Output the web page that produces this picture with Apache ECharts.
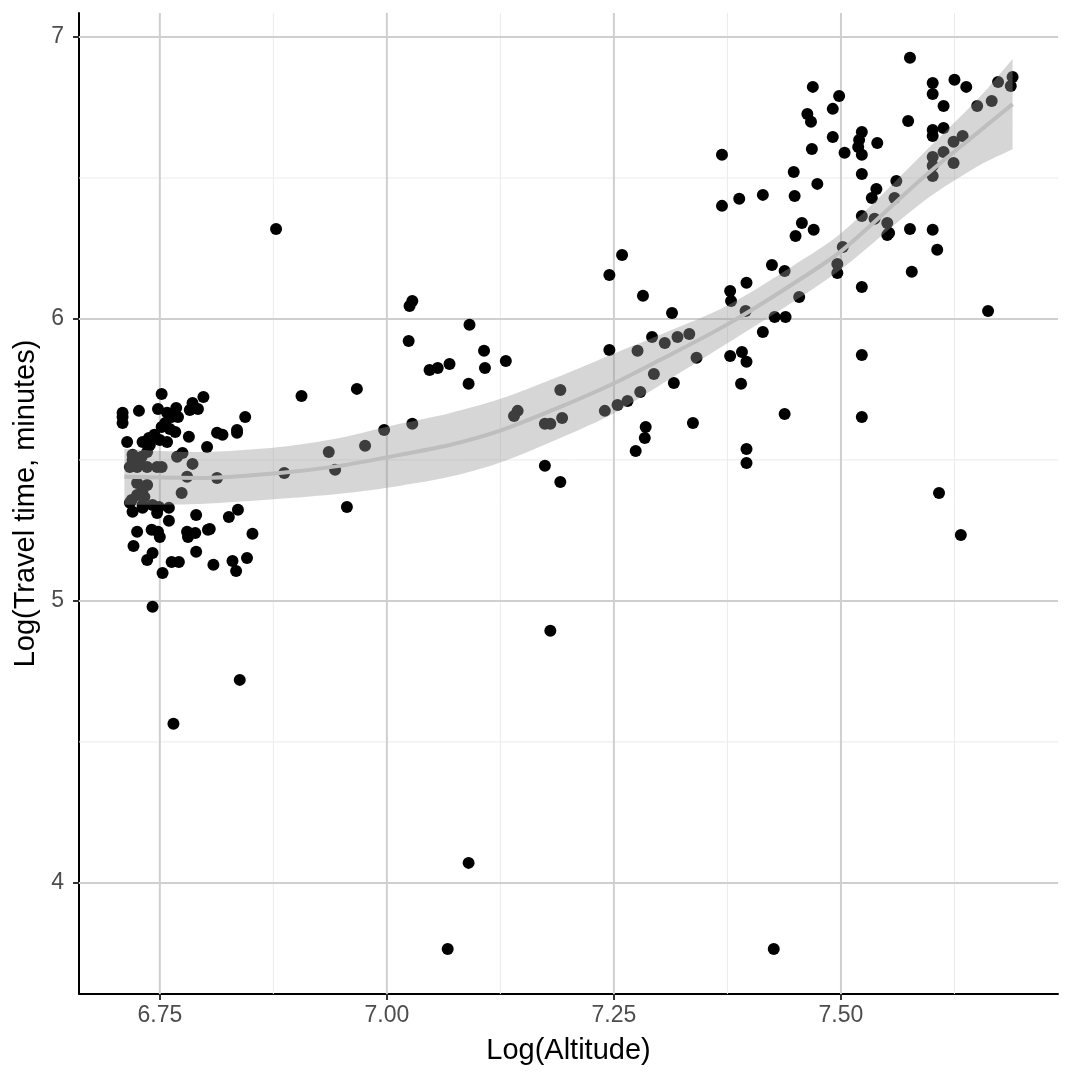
<!DOCTYPE html>
<html>
<head>
<meta charset="utf-8">
<title>Travel time vs altitude</title>
<script src="https://cdn.jsdelivr.net/npm/echarts@6/dist/echarts.min.js"></script>
<style>
  html, body { margin: 0; padding: 0; background: #fff; }
  #main { width: 1073px; height: 1084px; }
</style>
</head>
<body>
<div id="main"></div>
<script>
// observed points: log altitude / log travel time
const altitude = [
  6.752, 6.709, 6.709, 6.709, 6.727, 6.748, 6.758, 6.768, 6.786, 6.798,
  6.792, 6.783, 6.770, 6.763, 6.756, 6.752, 6.761, 6.767, 6.744, 6.738,
  6.731, 6.739, 6.750, 6.758, 6.714, 6.782, 6.802, 6.813, 6.819, 6.835,
  6.835, 6.844, 6.720, 6.730, 6.736, 6.769, 6.775, 6.786, 6.717, 6.725,
  6.736, 6.747, 6.752, 6.728, 6.720, 6.780, 6.813, 6.725, 6.736, 6.731,
  6.725, 6.733, 6.774, 6.719, 6.717, 6.731, 6.720, 6.731, 6.742, 6.747,
  6.749, 6.760, 6.790, 6.826, 6.836, 6.760, 6.725, 6.741, 6.748, 6.750,
  6.780, 6.781, 6.789, 6.803, 6.805, 6.852, 6.721, 6.742, 6.736, 6.790,
  6.809, 6.763, 6.771, 6.830, 6.846, 6.834, 6.753, 6.742, 6.838, 6.765,
  6.878, 6.887, 6.906, 6.936, 6.943, 6.956, 6.967, 6.976, 6.997, 7.024,
  7.025, 7.028, 7.028, 7.047, 7.056, 7.069, 7.091, 7.107, 7.108, 7.090,
  7.131, 7.140, 7.144, 7.174, 7.180, 7.174, 7.191, 7.193, 7.191, 7.180,
  7.090, 7.067, 7.426,
  7.259, 7.245, 7.282, 7.314, 7.292, 7.306, 7.320, 7.333, 7.276, 7.245,
  7.341, 7.294, 7.316, 7.279, 7.240, 7.254, 7.265, 7.285, 7.284, 7.274,
  7.337, 7.378, 7.379, 7.396, 7.395, 7.424, 7.438, 7.454, 7.427, 7.439,
  7.414, 7.378, 7.391, 7.396, 7.390, 7.438, 7.396, 7.396, 7.523, 7.523,
  7.576, 7.469, 7.498, 7.491, 7.463, 7.467, 7.491, 7.468, 7.504, 7.369,
  7.523, 7.520, 7.519, 7.523, 7.540, 7.574, 7.601, 7.601, 7.625, 7.638,
  7.613, 7.601, 7.601, 7.613, 7.650, 7.666, 7.673, 7.689, 7.687, 7.448,
  7.474, 7.523, 7.414, 7.388, 7.369, 7.449, 7.534, 7.539, 7.561, 7.559,
  7.601, 7.613, 7.624, 7.634, 7.601, 7.601, 7.624, 7.457, 7.450, 7.470,
  7.523, 7.537, 7.551, 7.553, 7.551, 7.576, 7.601, 7.606, 7.578, 7.502,
  7.496, 7.496, 7.523, 7.662, 7.632, 7.608
];
const travelTime = [
  5.734, 5.667, 5.631, 5.652, 5.674, 5.681, 5.667, 5.684, 5.702, 5.723,
  5.681, 5.677, 5.652, 5.652, 5.631, 5.617, 5.610, 5.599, 5.589, 5.578,
  5.564, 5.553, 5.571, 5.564, 5.564, 5.582, 5.546, 5.596, 5.589, 5.606,
  5.596, 5.652, 5.518, 5.511, 5.528, 5.511, 5.525, 5.486, 5.475, 5.475,
  5.475, 5.475, 5.475, 5.500, 5.500, 5.440, 5.436, 5.418, 5.411, 5.394,
  5.376, 5.369, 5.383, 5.358, 5.348, 5.340, 5.316, 5.330, 5.340, 5.312,
  5.333, 5.330, 5.305, 5.298, 5.323, 5.284, 5.245, 5.252, 5.245, 5.227,
  5.245, 5.227, 5.241, 5.252, 5.255, 5.238, 5.195, 5.170, 5.145, 5.174,
  5.128, 5.138, 5.138, 5.142, 5.152, 5.106, 5.099, 4.979, 4.720, 4.564,
  6.319, 5.454, 5.727, 5.528, 5.465, 5.333, 5.752, 5.550, 5.606, 5.922,
  6.046, 6.064, 5.628, 5.819, 5.826, 5.840, 5.979, 5.887, 5.826, 5.770,
  5.851, 5.656, 5.674, 5.628, 5.628, 5.479, 5.748, 5.649, 5.422, 4.894,
  4.071, 3.766, 3.766,
  6.227, 6.156, 6.082, 6.021, 5.936, 5.915, 5.936, 5.947, 5.887, 5.890,
  5.862, 5.805, 5.773, 5.741, 5.674, 5.695, 5.709, 5.617, 5.578, 5.532,
  5.631, 6.099, 6.064, 6.128, 6.028, 6.191, 6.170, 6.078, 6.007, 6.007,
  5.954, 5.869, 5.883, 5.848, 5.770, 5.663, 5.539, 5.489, 5.872, 5.652,
  6.926, 6.823, 6.791, 6.745, 6.727, 6.699, 6.645, 6.603, 6.589, 6.582,
  6.663, 6.635, 6.610, 6.582, 6.624, 6.702, 6.837, 6.798, 6.848, 6.823,
  6.755, 6.670, 6.649, 6.677, 6.755, 6.773, 6.840, 6.858, 6.826, 6.521,
  6.479, 6.514, 6.440, 6.426, 6.401, 6.436, 6.429, 6.461, 6.489, 6.429,
  6.574, 6.592, 6.628, 6.649, 6.543, 6.507, 6.553, 6.340, 6.294, 6.316,
  6.365, 6.355, 6.340, 6.305, 6.298, 6.319, 6.316, 6.245, 6.167, 6.255,
  6.195, 6.163, 6.113, 6.028, 5.234, 5.383
];

// fitted smooth curve and its confidence band
const smoothX   = [6.711, 6.794, 6.882, 6.948, 7.014, 7.069, 7.124, 7.191, 7.249, 7.301, 7.374, 7.447, 7.502, 7.590, 7.653, 7.689];
const smoothY   = [5.440, 5.436, 5.454, 5.479, 5.518, 5.553, 5.603, 5.688, 5.770, 5.855, 5.979, 6.124, 6.245, 6.500, 6.667, 6.762];
const bandLow   = [5.341, 5.344, 5.362, 5.380, 5.408, 5.440, 5.490, 5.578, 5.664, 5.766, 5.912, 6.060, 6.181, 6.415, 6.546, 6.602];
const bandHigh  = [5.539, 5.528, 5.546, 5.578, 5.628, 5.666, 5.716, 5.798, 5.876, 5.944, 6.046, 6.188, 6.309, 6.585, 6.788, 6.922];

// axis ticks and grid breaks
const xTicks = [6.75, 7.00, 7.25, 7.50];
const xMinor = [6.875, 7.125, 7.375, 7.625];
const yTicks = [4, 5, 6, 7];
const yMinor = [4.5, 5.5, 6.5];

const X_MIN = 6.661, X_MAX = 7.739;
const Y_MIN = 3.606, Y_MAX = 7.085;
const FONT = '"Liberation Sans", Arial, sans-serif';

const chart = echarts.init(document.getElementById('main'));

function gridSeries(values, dir, color, width) {
  return {
    type: 'custom',
    silent: true,
    z: 1,
    data: values.map(v => dir === 'v' ? [v, Y_MIN] : [X_MIN, v]),
    renderItem: function (params, api) {
      const cs = params.coordSys;
      if (dir === 'v') {
        const px = api.coord([api.value(0), Y_MIN])[0];
        return { type: 'line', shape: { x1: px, y1: cs.y, x2: px, y2: cs.y + cs.height },
                 style: { stroke: color, lineWidth: width } };
      }
      const py = api.coord([X_MIN, api.value(1)])[1];
      return { type: 'line', shape: { x1: cs.x, y1: py, x2: cs.x + cs.width, y2: py },
               style: { stroke: color, lineWidth: width } };
    }
  };
}

const points = altitude.map((a, i) => [a, travelTime[i]]);
const last = smoothX.length - 1;

chart.setOption({
  animation: false,
  textStyle: { fontFamily: FONT },
  grid: { left: 79, right: 15, top: 13, bottom: 90 },
  xAxis: {
    type: 'value',
    min: X_MIN,
    max: X_MAX,
    name: 'Log(Altitude)',
    nameLocation: 'middle',
    nameGap: 42,
    nameTextStyle: { fontSize: 29, color: '#000', fontFamily: FONT },
    axisLine: { lineStyle: { color: '#000', width: 2 } },
    axisTick: { show: true, length: 6, customValues: xTicks, lineStyle: { color: '#333', width: 2 } },
    axisLabel: {
      customValues: xTicks,
      formatter: v => v.toFixed(2),
      color: '#4d4d4d', fontSize: 23, margin: 10, fontFamily: FONT
    },
    splitLine: { show: false }
  },
  yAxis: {
    type: 'value',
    min: Y_MIN,
    max: Y_MAX,
    name: 'Log(Travel time, minutes)',
    nameLocation: 'middle',
    nameGap: 32,
    nameTextStyle: { fontSize: 29, color: '#000', fontFamily: FONT },
    axisLine: { lineStyle: { color: '#000', width: 2 } },
    axisTick: { show: true, length: 6, customValues: yTicks, lineStyle: { color: '#333', width: 2 } },
    axisLabel: {
      customValues: yTicks,
      formatter: v => String(Math.round(v)),
      color: '#4d4d4d', fontSize: 23, margin: 15, fontFamily: FONT
    },
    splitLine: { show: false }
  },
  series: [
    gridSeries(xMinor, 'v', '#ebebeb', 1),
    gridSeries(yMinor, 'h', '#ebebeb', 1),
    gridSeries(xTicks, 'v', '#cfcfcf', 2),
    gridSeries(yTicks, 'h', '#cfcfcf', 2),
    {
      type: 'scatter',
      z: 2,
      data: points,
      symbolSize: 12,
      itemStyle: { color: '#000', opacity: 1 },
      silent: true
    },
    {
      // confidence band; end corners doubled so the smoothing keeps the ends straight
      type: 'custom',
      z: 3,
      silent: true,
      data: [[smoothX[0], bandLow[0]]],
      renderItem: function (params, api) {
        const pts = [];
        pts.push(api.coord([smoothX[0], bandHigh[0]]));
        for (let i = 0; i <= last; i++) pts.push(api.coord([smoothX[i], bandHigh[i]]));
        pts.push(api.coord([smoothX[last], bandHigh[last]]));
        pts.push(api.coord([smoothX[last], bandLow[last]]));
        for (let i = last; i >= 0; i--) pts.push(api.coord([smoothX[i], bandLow[i]]));
        pts.push(api.coord([smoothX[0], bandLow[0]]));
        return { type: 'polygon', shape: { points: pts, smooth: 0.3 },
                 style: { fill: 'rgba(153,153,153,0.4)' } };
      }
    },
    {
      type: 'line',
      z: 4,
      silent: true,
      data: smoothX.map((x, i) => [x, smoothY[i]]),
      smooth: 0.3,
      showSymbol: false,
      lineStyle: { color: '#bebebe', width: 4 }
    }
  ]
});
</script>
</body>
</html>
